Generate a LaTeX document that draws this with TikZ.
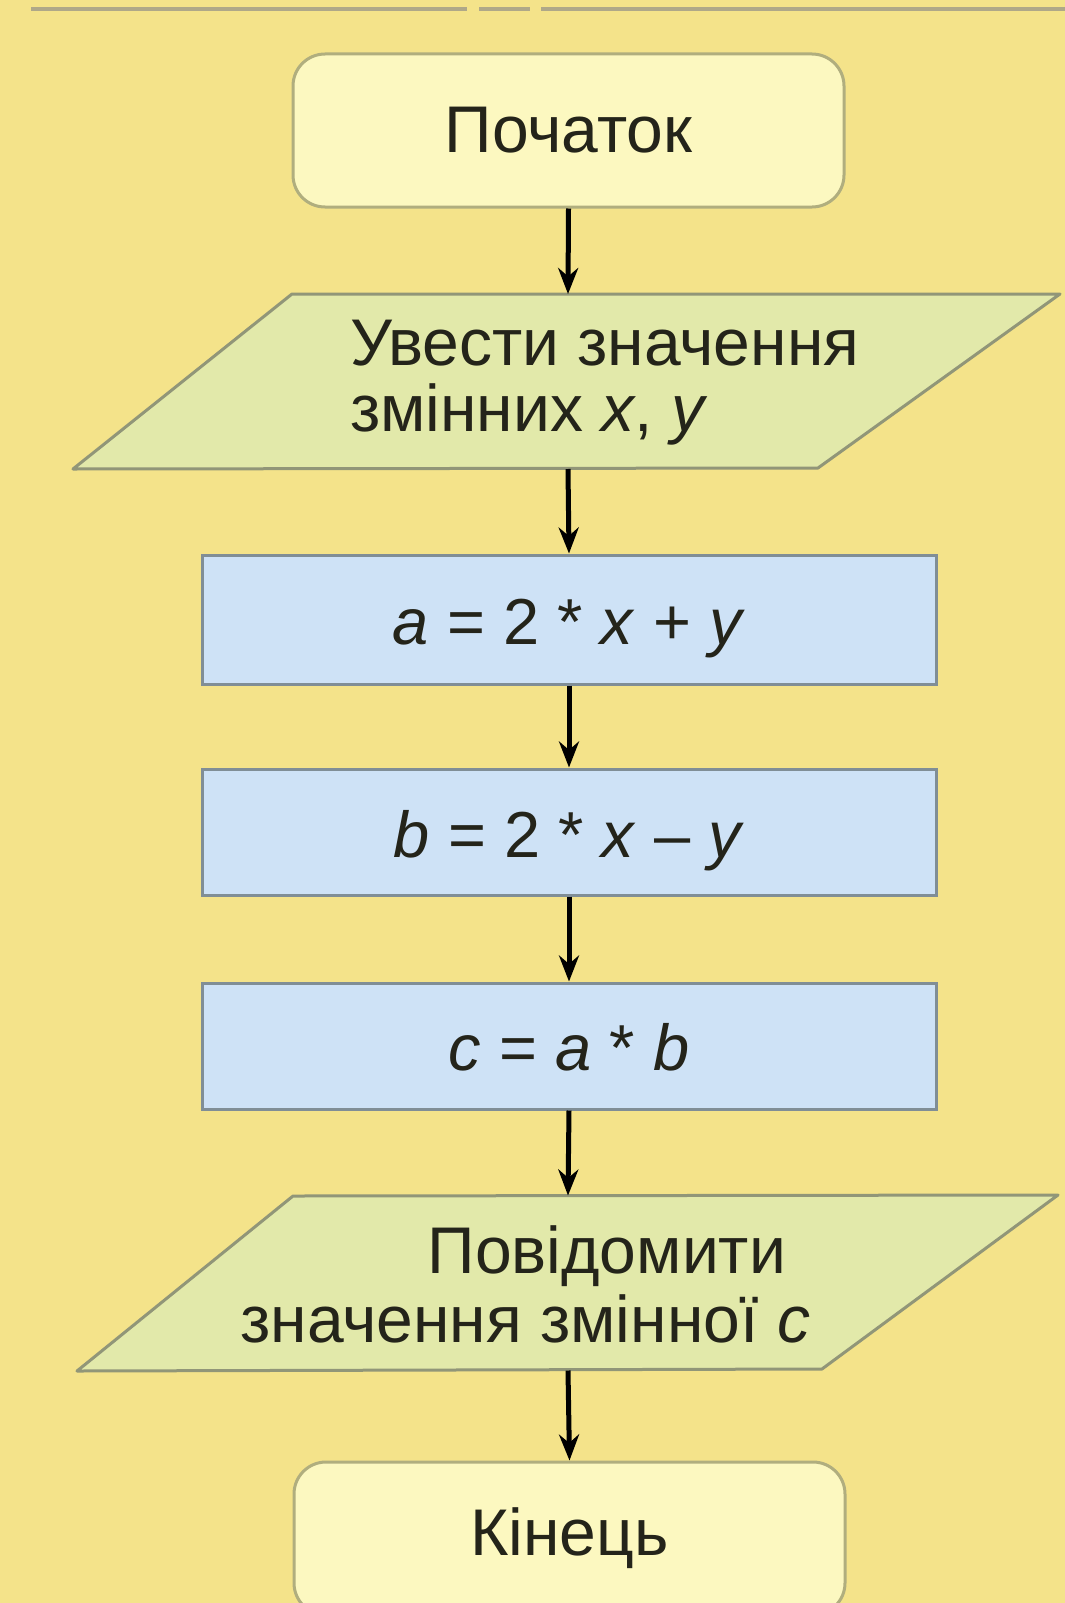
\documentclass[tikz,border=0pt]{standalone}
\usepackage{fontspec}
\setmainfont{Liberation Sans}
\usetikzlibrary{arrows.meta}
\definecolor{bg}{RGB}{244,227,138}
\definecolor{termfill}{RGB}{252,248,192}
\definecolor{termdraw}{RGB}{176,174,126}
\definecolor{iofill}{RGB}{226,233,170}
\definecolor{iodraw}{RGB}{145,150,120}
\definecolor{procfill}{RGB}{206,226,246}
\definecolor{procdraw}{RGB}{128,142,150}
\definecolor{txt}{RGB}{36,36,26}
\definecolor{toprule}{RGB}{175,168,136}
\begin{document}
\begin{tikzpicture}[x=1pt,y=-1pt,
  every node/.style={font=\fontsize{66}{66}\selectfont, text=txt},
  termbox/.style={draw=termdraw, fill=termfill, line width=3pt, rounded corners=32pt,
    minimum width=551pt, minimum height=153pt, inner sep=0pt},
  procbox/.style={draw=procdraw, fill=procfill, line width=3pt,
    minimum width=734pt, inner sep=0pt, font=\fontsize{65}{66}\selectfont},
  iobox/.style={draw=iodraw, fill=iofill, line width=3pt, line join=round},
  anchorbox/.style={inner sep=0pt, outer sep=0pt, minimum width=10pt},
  iotext/.style={inner sep=0pt, outer sep=0pt},
  flow/.style={line width=5pt, black, -{Stealth[length=26pt,width=20pt]}},
  rulel/.style={line width=3.5pt, toprule}]
\path[fill=bg] (0,0) rectangle (1065,1603);
\useasboundingbox (0,0) rectangle (1065,1603);

% top rule
\coordinate (r1a) at (31,9); \coordinate (r1b) at (467,9);
\coordinate (r2a) at (479,9); \coordinate (r2b) at (530,9);
\coordinate (r3a) at (541,9); \coordinate (r3b) at (1065,9);
\draw[rulel] (r1a) -- (r1b);
\draw[rulel] (r2a) -- (r2b);
\draw[rulel] (r3a) -- (r3b);

% start
\node[termbox] (start) at (568.5,130.5) {Початок};

% input parallelogram
\draw[iobox] (292,294) -- (1060,294) -- (818,468) -- (73,469) -- cycle;
\node[anchorbox, minimum height=175pt] (in) at (568,381.5) {};
\node[iotext, align=left, anchor=west] (intext) at (350,382.5) {Увести значення\\змінних \textit{x}, \textit{y}};

% process boxes
\node[procbox, minimum height=129pt] (pa) at (569,619.5) {\raisebox{-25pt}[0pt][0pt]{\textit{a} = 2 * \textit{x} + \textit{y}}};
\node[procbox, minimum height=126pt] (pb) at (569,832) {\raisebox{-25pt}[0pt][0pt]{\textit{b} = 2 * \textit{x} – \textit{y}}};
\node[procbox, minimum height=126pt] (pc) at (569,1046) {\raisebox{-24pt}[0pt][0pt]{\textit{c} = \textit{a} * \textit{b}}};

% output parallelogram
\draw[iobox] (293,1196) -- (1058,1195) -- (822,1369) -- (77,1371) -- cycle;
\node[anchorbox, minimum height=175pt] (out) at (568,1283) {};
\node[iotext, align=right, anchor=east, font=\fontsize{66}{69}\selectfont] (outtext) at (810,1284) {Повідомити\hspace*{24pt}\\значення змінної \textit{c}};

% end
\node[termbox] (stop) at (569.5,1538.5) {Кінець};

% connectors
\draw[flow] (start.south) -- (in.north);
\draw[flow] (in.south) -- (pa.north);
\draw[flow] (pa.south) -- (pb.north);
\draw[flow] (pb.south) -- (pc.north);
\draw[flow] (pc.south) -- (out.north);
\draw[flow] (out.south) -- (stop.north);
\end{tikzpicture}
\end{document}
